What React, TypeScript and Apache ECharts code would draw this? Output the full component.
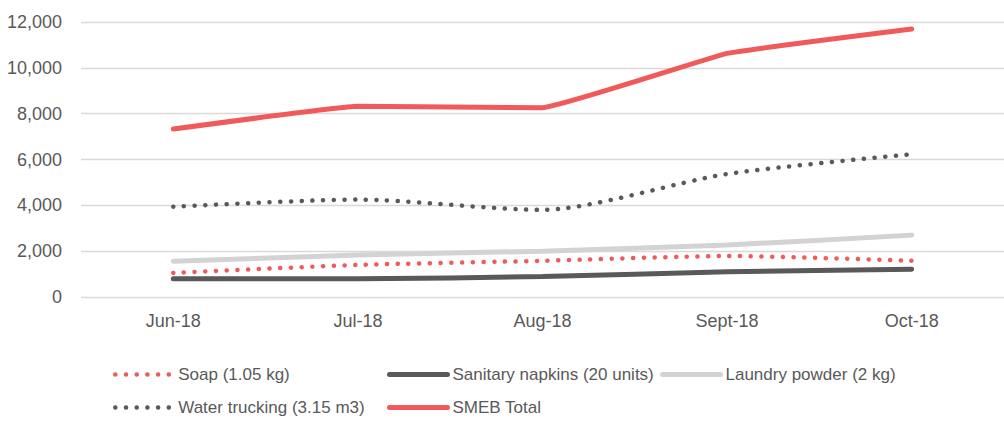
import React, { useEffect, useRef } from "react";
import * as echarts from "echarts";

const categories = ["Jun-18", "Jul-18", "Aug-18", "Sept-18", "Oct-18"];
const soap = [1050, 1400, 1580, 1790, 1580];
const napkins = [800, 800, 890, 1100, 1210];
const laundry = [1560, 1830, 2000, 2270, 2700];
const water = [3940, 4250, 3800, 5370, 6230];
const smeb = [7330, 8320, 8260, 10630, 11690];
const yTicks = [0, 2000, 4000, 6000, 8000, 10000, 12000];

const FONT = '"Liberation Sans", Arial, sans-serif';
const TXT = "#595959";
const RED = "#F05A5A";
const DARK = "#595959";
const LIGHT = "#D3D3D3";

export default function App() {
  const ref = useRef<HTMLDivElement>(null);
  useEffect(() => {
    if (!ref.current) return;
    const chart = echarts.init(ref.current, undefined, { renderer: "svg" });
    const dotted = (color: string) => ({ color, width: 4.5, type: [0.1, 10.6], cap: "round" });
    const solid = (color: string) => ({ color, width: 5, cap: "round" });
    const legendBase = {
      padding: 0,
      itemWidth: 58,
      itemHeight: 14,
      itemStyle: { opacity: 0 },
      textStyle: { fontFamily: FONT, fontSize: 17, color: TXT },
    };
    chart.setOption({
      animation: false,
      textStyle: { fontFamily: FONT },
      grid: { left: 81, top: 22, width: 923, height: 275, containLabel: false },
      xAxis: {
        type: "category",
        data: categories,
        boundaryGap: true,
        axisLine: { show: false },
        axisTick: { show: false },
        axisLabel: { fontFamily: FONT, fontSize: 18, color: TXT, margin: 15 },
      },
      yAxis: {
        type: "value",
        min: yTicks[0],
        max: yTicks[yTicks.length - 1],
        interval: 2000,
        axisLine: { show: false },
        axisTick: { show: false },
        splitLine: { lineStyle: { color: "#D9D9D9", width: 1.3 } },
        axisLabel: {
          fontFamily: FONT,
          fontSize: 18,
          color: TXT,
          margin: 19,
          formatter: (v: number) => v.toLocaleString("en-US"),
        },
      },
      legend: [
        { ...legendBase, data: ["Soap (1.05 kg)"], left: 113, top: 366, lineStyle: dotted(RED) },
        { ...legendBase, data: ["Sanitary napkins (20 units)"], left: 387, top: 366, lineStyle: solid(DARK) },
        { ...legendBase, data: ["Laundry powder (2 kg)"], left: 660, top: 366, lineStyle: solid(LIGHT) },
        { ...legendBase, data: ["Water trucking (3.15 m3)"], left: 113, top: 399, lineStyle: dotted(DARK) },
        { ...legendBase, data: ["SMEB Total"], left: 387, top: 399, lineStyle: solid(RED) },
      ],
      series: [
        { name: "Soap (1.05 kg)", type: "line", data: soap, smooth: 0.2, symbol: "none", lineStyle: dotted(RED), itemStyle: { color: RED } },
        { name: "Sanitary napkins (20 units)", type: "line", data: napkins, smooth: 0.2, symbol: "none", lineStyle: solid(DARK), itemStyle: { color: DARK } },
        { name: "Laundry powder (2 kg)", type: "line", data: laundry, smooth: 0.2, symbol: "none", lineStyle: solid(LIGHT), itemStyle: { color: LIGHT } },
        { name: "Water trucking (3.15 m3)", type: "line", data: water, smooth: 0.25, symbol: "none", lineStyle: dotted(DARK), itemStyle: { color: DARK } },
        { name: "SMEB Total", type: "line", data: smeb, smooth: 0.08, symbol: "none", lineStyle: solid(RED), itemStyle: { color: RED } },
      ],
    });
    return () => chart.dispose();
  }, []);
  return (
    <div
      ref={ref}
      style={{ position: "fixed", left: 0, top: 0, width: 1004, height: 424, background: "#fff" }}
    />
  );
}
